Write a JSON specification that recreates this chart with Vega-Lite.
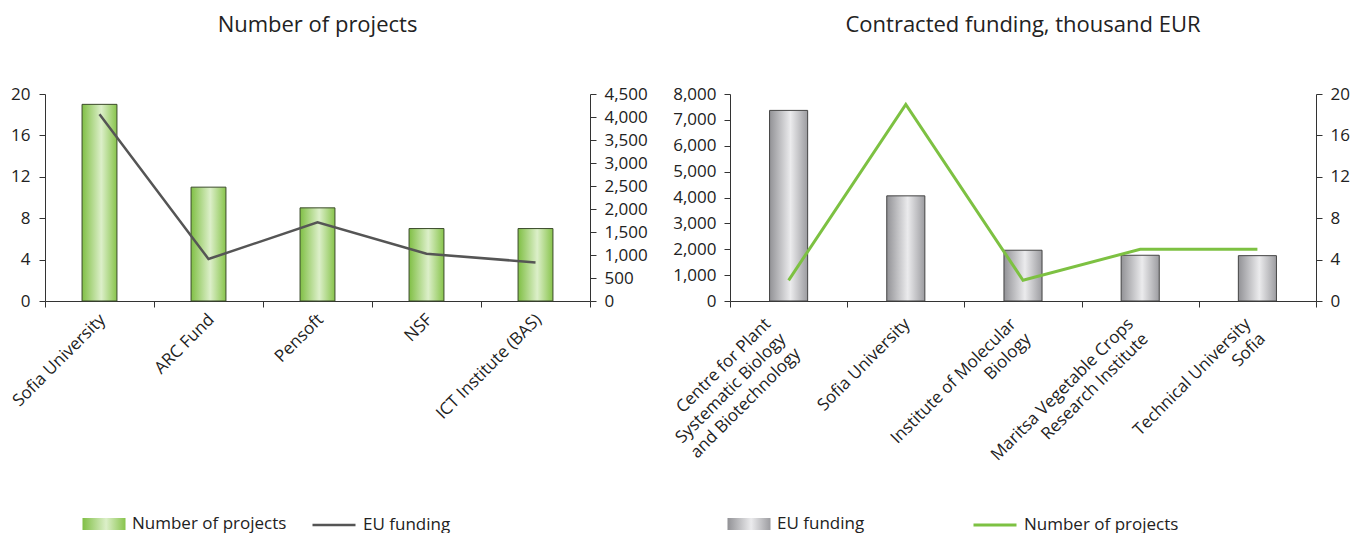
{
  "$schema": "https://vega.github.io/schema/vega-lite/v6.json",
  "padding": {"top": 14, "left": 9, "right": 0, "bottom": 0},
  "background": "white",
  "config": {
    "font": "Open Sans",
    "view": {"stroke": null},
    "axis": {"labelFont": "Open Sans", "labelFontSize": 17, "labelColor": "#222", "domainColor": "#333", "tickColor": "#333", "tickSize": 6, "grid": false, "title": null, "labelPadding": 8, "labelLimit": 400},
    "legend": {"labelFont": "Open Sans", "labelFontSize": 17, "labelColor": "#222", "labelLimit": 400, "padding": 0, "symbolSize": 1849, "labelOffset": 6, "orient": "none", "title": null},
    "title": {"font": "Open Sans", "fontSize": 22, "fontWeight": "normal", "color": "#222"}
  },
  "datasets": {
    "left": [
      {"org": "Sofia University", "projects": 19, "funding": 4060},
      {"org": "ARC Fund", "projects": 11, "funding": 913},
      {"org": "Pensoft", "projects": 9, "funding": 1709},
      {"org": "NSF", "projects": 7, "funding": 1028},
      {"org": "ICT Institute (BAS)", "projects": 7, "funding": 839}
    ],
    "right": [
      {"org": "Centre for Plant|Systematic Biology|and Biotechnology", "projects": 2, "funding": 7366},
      {"org": "Sofia University", "projects": 19, "funding": 4064},
      {"org": "Institute of Molecular|Biology", "projects": 2, "funding": 1962},
      {"org": "Maritsa Vegetable Crops|Research Institute", "projects": 5, "funding": 1768},
      {"org": "Technical University|Sofia", "projects": 5, "funding": 1753}
    ]
  },
  "hconcat": [
    {
      "title": {"text": "Number of projects", "offset": 48},
      "width": 545,
      "height": 207,
      "data": {"name": "left"},
      "layer": [
        {
          "mark": {"type": "bar", "width": {"band": 0.32}, "strokeWidth": 1, "stroke": "#3a4a2a",
            "fill": {"gradient": "linear", "x1": 0, "y1": 0, "x2": 1, "y2": 0, "stops": [{"offset": 0, "color": "#80bf45"}, {"offset": 0.55, "color": "#dcefc9"}, {"offset": 1, "color": "#88c44c"}]}},
          "encoding": {
            "x": {"field": "org", "type": "nominal", "sort": null, "scale": {"paddingInner": 0, "paddingOuter": 0},
              "axis": {"labelAngle": -45, "tickBand": "extent", "labelPadding": 4, "labelOffset": -3}},
            "y": {"field": "projects", "type": "quantitative", "scale": {"domain": [0, 20], "nice": false},
              "axis": {"orient": "left", "values": [0, 4, 8, 12, 16, 20], "labelPadding": 9}},
            "opacity": {"datum": "Number of projects", "type": "nominal",
              "scale": {"domain": ["Number of projects"], "range": [1]},
              "legend": {"legendX": 37, "legendY": 408, "symbolType": "M-1,-0.28H1V0.28H-1Z", "symbolStrokeColor": "#3a4a2a", "symbolStrokeWidth": 1}}
          }
        },
        {
          "mark": {"type": "line", "strokeWidth": 2.5},
          "encoding": {
            "x": {"field": "org", "type": "nominal", "sort": null},
            "y": {"field": "funding", "type": "quantitative", "scale": {"domain": [0, 4500], "nice": false},
              "axis": {"orient": "right", "values": [0, 500, 1000, 1500, 2000, 2500, 3000, 3500, 4000, 4500], "format": ",.0f"}},
            "stroke": {"datum": "EU funding", "type": "nominal",
              "scale": {"domain": ["EU funding"], "range": ["#555555"]},
              "legend": {"legendX": 266, "legendY": 408, "symbolType": "stroke", "symbolStrokeWidth": 2.5}}
          }
        }
      ],
      "resolve": {"scale": {"y": "independent"}}
    },
    {
      "title": {"text": "Contracted funding, thousand EUR", "offset": 48},
      "width": 586,
      "height": 207,
      "data": {"name": "right"},
      "layer": [
        {
          "mark": {"type": "bar", "width": {"band": 0.325}, "strokeWidth": 1, "stroke": "#444444",
            "fill": {"gradient": "linear", "x1": 0, "y1": 0, "x2": 1, "y2": 0, "stops": [{"offset": 0, "color": "#929296"}, {"offset": 0.55, "color": "#ebebed"}, {"offset": 1, "color": "#9c9ca0"}]}},
          "encoding": {
            "x": {"field": "org", "type": "nominal", "sort": null, "scale": {"paddingInner": 0, "paddingOuter": 0},
              "axis": {"labelAngle": -45, "labelAlign": "right", "labelBaseline": "middle", "tickBand": "extent", "labelPadding": 14, "labelExpr": "datum.value ? split(datum.value, '|') : ''", "labelLineHeight": 21,
                "labelOffset": {"condition": [{"test": "datum.value === 'Centre for Plant|Systematic Biology|and Biotechnology'", "value": -21}, {"test": "datum.value && indexof(datum.value, '|') >= 0", "value": -10}], "value": 1}}},
            "y": {"field": "funding", "type": "quantitative", "scale": {"domain": [0, 8000], "nice": false},
              "axis": {"orient": "left", "values": [0, 1000, 2000, 3000, 4000, 5000, 6000, 7000, 8000], "format": ",.0f"}},
            "opacity": {"datum": "EU funding", "type": "nominal",
              "scale": {"domain": ["EU funding"], "range": [1]},
              "legend": {"legendX": -3, "legendY": 408, "symbolType": "M-1,-0.28H1V0.28H-1Z", "symbolStrokeColor": "#444444", "symbolStrokeWidth": 1}}
          }
        },
        {
          "mark": {"type": "line", "strokeWidth": 3},
          "encoding": {
            "x": {"field": "org", "type": "nominal", "sort": null},
            "y": {"field": "projects", "type": "quantitative", "scale": {"domain": [0, 20], "nice": false},
              "axis": {"orient": "right", "values": [0, 4, 8, 12, 16, 20]}},
            "stroke": {"datum": "Number of projects", "type": "nominal",
              "scale": {"domain": ["Number of projects"], "range": ["#7dc142"]},
              "legend": {"legendX": 242, "legendY": 408, "symbolType": "stroke", "symbolStrokeWidth": 3}}
          }
        }
      ],
      "resolve": {"scale": {"y": "independent"}}
    }
  ],
  "spacing": 9,
  "resolve": {"scale": {"stroke": "independent", "opacity": "independent", "x": "independent"}, "legend": {"stroke": "independent", "opacity": "independent"}}
}
